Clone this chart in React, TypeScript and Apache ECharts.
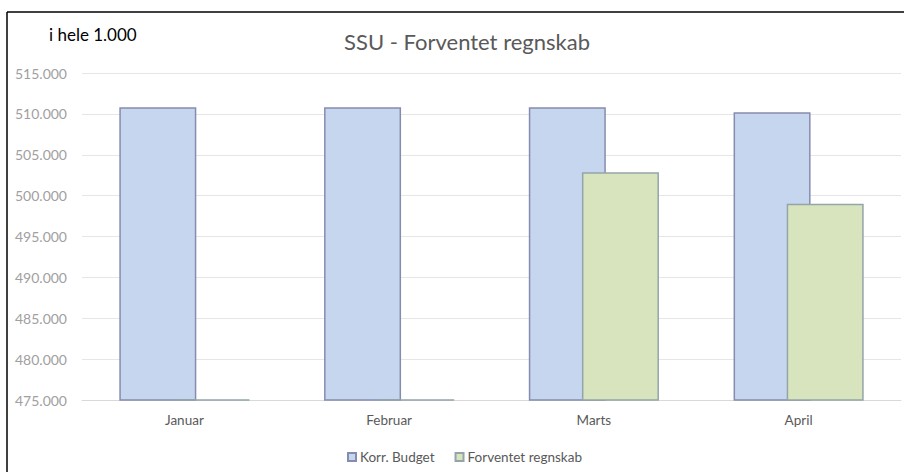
import React, { useEffect, useRef } from "react";
import * as echarts from "echarts";

const categories = ["Januar", "Februar", "Marts", "April"];
const korrBudget = [510.8, 510.8, 510.8, 510.2];
const forventetRegnskab = [475.1, 475.1, 502.85, 499.0];
const seriesNames = ["Korr. Budget", "Forventet regnskab"];
const chartTitle = "SSU - Forventet regnskab";
const unitNote = "i hele 1.000";

const fmt = (v: number) => v.toFixed(3);

export default function App() {
  const ref = useRef<HTMLDivElement>(null);
  useEffect(() => {
    if (!ref.current) return;
    const chart = echarts.init(ref.current, null, { renderer: "svg" });
    const font = "Lato, 'Open Sans', sans-serif";
    chart.setOption({
      animation: false,
      backgroundColor: "#ffffff",
      textStyle: { fontFamily: font },
      title: {
        text: chartTitle,
        left: 462,
        top: 25,
        textAlign: "center",
        textStyle: { fontFamily: font, fontSize: 22, fontWeight: "normal", color: "#595959" },
      },
      graphic: [
        { type: "line", shape: { x1: 7, y1: 12, x2: 904, y2: 12 }, style: { stroke: "#000", lineWidth: 1.5 } },
        { type: "line", shape: { x1: 7, y1: 12, x2: 7, y2: 472 }, style: { stroke: "#000", lineWidth: 1.5 } },
        {
          type: "text",
          left: 49,
          top: 26,
          style: { text: unitNote, fontFamily: font, fontSize: 17, fill: "#000" },
        },
      ],
      legend: {
        data: seriesNames,
        top: 445,
        left: 342,
        itemWidth: 8,
        itemHeight: 8,
        itemGap: 20,
        icon: "rect",
        textStyle: { fontFamily: font, fontSize: 13.5, color: "#595959", padding: [0, 0, 0, -1] },
      },
      grid: { left: 82, right: 3, top: 73, bottom: 72, containLabel: false },
      xAxis: {
        type: "category",
        data: categories,
        axisLine: { lineStyle: { color: "#d9d9d9" } },
        axisTick: { show: false },
        axisLabel: { fontFamily: font, fontSize: 13.5, color: "#595959", margin: 13 },
      },
      yAxis: {
        type: "value",
        min: 475,
        max: 515,
        interval: 5,
        axisLine: { show: false },
        axisTick: { show: false },
        splitLine: { lineStyle: { color: "#e6e6e6" } },
        axisLabel: { fontFamily: font, fontSize: 14, color: "#a0a0a0", margin: 15, formatter: fmt },
      },
      series: [
        {
          name: seriesNames[0],
          type: "bar",
          data: korrBudget,
          barWidth: 77,
          barGap: "-31%",
          itemStyle: { color: "#c6d6ee", borderColor: "#868caf", borderWidth: 1.5 },
        },
        {
          name: seriesNames[1],
          type: "bar",
          data: forventetRegnskab,
          barWidth: 77,
          itemStyle: { color: "#d7e4bd", borderColor: "#93a5a8", borderWidth: 1.5 },
        },
      ],
    });
    return () => chart.dispose();
  }, []);
  return (
    <div
      ref={ref}
      style={{ position: "fixed", left: 0, top: 0, width: 904, height: 472 }}
    />
  );
}
